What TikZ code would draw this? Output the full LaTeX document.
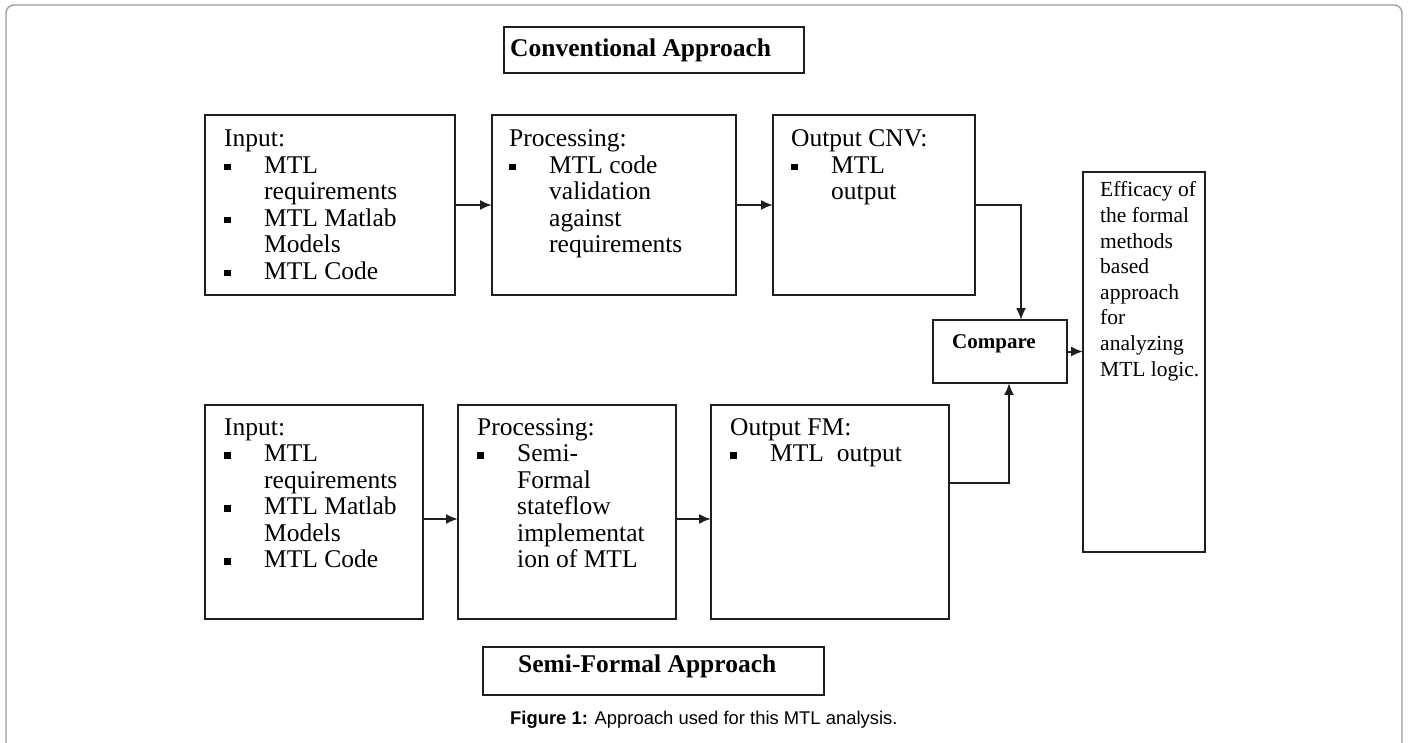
\documentclass[tikz,border=0pt]{standalone}
\usepackage{fontspec}
\setmainfont{Liberation Serif}
\newfontfamily\capfont{Liberation Sans}
\usetikzlibrary{arrows.meta}
\newcommand\sqbul{\makebox[40pt][l]{\rule[3pt]{6.5pt}{6.5pt}}}
\newcommand\nobul{\makebox[40pt][l]{}}
\begin{document}
\begin{tikzpicture}[x=1pt,y=-1pt,
  box/.style={draw=black!88,line width=2pt,anchor=north west,inner sep=0pt,outer sep=0pt},
  txt/.style={anchor=base west,inner sep=0pt,font=\fontsize{25.5}{26.5}\selectfont},
  efftxt/.style={anchor=base west,inner sep=0pt,font=\fontsize{21.5}{25.6}\selectfont},
  title/.style={anchor=base west,inner sep=0pt,font=\fontsize{25.5}{30}\selectfont\bfseries},
  conn/.style={draw=black!88,line width=2pt,-{Latex[length=12pt,width=10pt]}}]
\useasboundingbox (0,0) rectangle (1410,743);
\fill[white] (0,0) rectangle (1410,743);
\draw[black!40,line width=1.3pt,rounded corners=8pt] (6,760) -- (6,5) -- (1402,5) -- (1402,760);

% title boxes
\node[box,minimum width=300pt,minimum height=46pt] (conv) at (504,27) {};
\node[title] (convt) at (510,57) {Conventional Approach};
\node[box,minimum width=341pt,minimum height=48pt] (semi) at (483,647) {};
\node[title] (semit) at (518,672) {Semi-Formal Approach};

% top row
\node[box,minimum width=250pt,minimum height=180pt] (in1) at (205,115) {};
\node[box,minimum width=244pt,minimum height=180pt] (pr1) at (492,115) {};
\node[box,minimum width=202pt,minimum height=180pt] (cnv) at (773,115) {};
\node[txt] (in1t) at (224,147) {\begin{tabular}[t]{@{}l@{}l@{}}
\multicolumn{2}{@{}l@{}}{Input:}\\
\sqbul & MTL\\
\nobul & requirements\\
\sqbul & MTL Matlab\\
\nobul & Models\\
\sqbul & MTL Code
\end{tabular}};
\node[txt] (pr1t) at (509,147) {\begin{tabular}[t]{@{}l@{}l@{}}
\multicolumn{2}{@{}l@{}}{Processing:}\\
\sqbul & MTL code\\
\nobul & validation\\
\nobul & against\\
\nobul & requirements
\end{tabular}};
\node[txt] (cnvt) at (791,147) {\begin{tabular}[t]{@{}l@{}l@{}}
\multicolumn{2}{@{}l@{}}{Output CNV:}\\
\sqbul & MTL\\
\nobul & output
\end{tabular}};

% bottom row
\node[box,minimum width=218pt,minimum height=214pt] (in2) at (205,405) {};
\node[box,minimum width=218pt,minimum height=214pt] (pr2) at (458,405) {};
\node[box,minimum width=238pt,minimum height=214pt] (fm) at (711,405) {};
\node[txt] (in2t) at (224,435) {\begin{tabular}[t]{@{}l@{}l@{}}
\multicolumn{2}{@{}l@{}}{Input:}\\
\sqbul & MTL\\
\nobul & requirements\\
\sqbul & MTL Matlab\\
\nobul & Models\\
\sqbul & MTL Code
\end{tabular}};
\node[txt] (pr2t) at (477,435) {\begin{tabular}[t]{@{}l@{}l@{}}
\multicolumn{2}{@{}l@{}}{Processing:}\\
\sqbul & Semi-\\
\nobul & Formal\\
\nobul & stateflow\\
\nobul & implementat\\
\nobul & ion of MTL
\end{tabular}};
\node[txt] (fmt) at (730,435) {\begin{tabular}[t]{@{}l@{}l@{}}
\multicolumn{2}{@{}l@{}}{Output FM:}\\
\sqbul & MTL\ \ output
\end{tabular}};

% compare and result
\node[box,minimum width=134pt,minimum height=63pt] (cmp) at (933,320) {};
\node[anchor=base west,inner sep=0pt,font=\fontsize{21}{25}\selectfont\bfseries] (cmpt) at (952,348) {Compare};
\node[box,minimum width=122pt,minimum height=380pt] (eff) at (1083,172) {};
\node[efftxt] (efft) at (1100,197) {\begin{tabular}[t]{@{}l@{}}
Efficacy of\\ the formal\\ methods\\ based\\ approach\\ for\\ analyzing\\ MTL logic.
\end{tabular}};

% connectors
\draw[conn] (in1.east) -- (pr1.west);
\draw[conn] (pr1.east) -- (cnv.west);
\draw[conn] ([yshift=-7pt]in2.east) -- ([yshift=-7pt]pr2.west);
\draw[conn] ([yshift=-7pt]pr2.east) -- ([yshift=-7pt]fm.west);
\draw[conn] (cnv.east) -| ([xshift=21pt]cmp.north);
\draw[conn] ([yshift=29pt]fm.east) -| ([xshift=9pt]cmp.south);
\draw[conn] (cmp.east) -- (cmp.east -| eff.west);

% caption
\node[anchor=base west,inner sep=0pt,font=\capfont\fontsize{18.4}{22}\selectfont] (cap) at (510,724) {\textbf{Figure 1:} Approach used for this MTL analysis.};
\end{tikzpicture}
\end{document}
